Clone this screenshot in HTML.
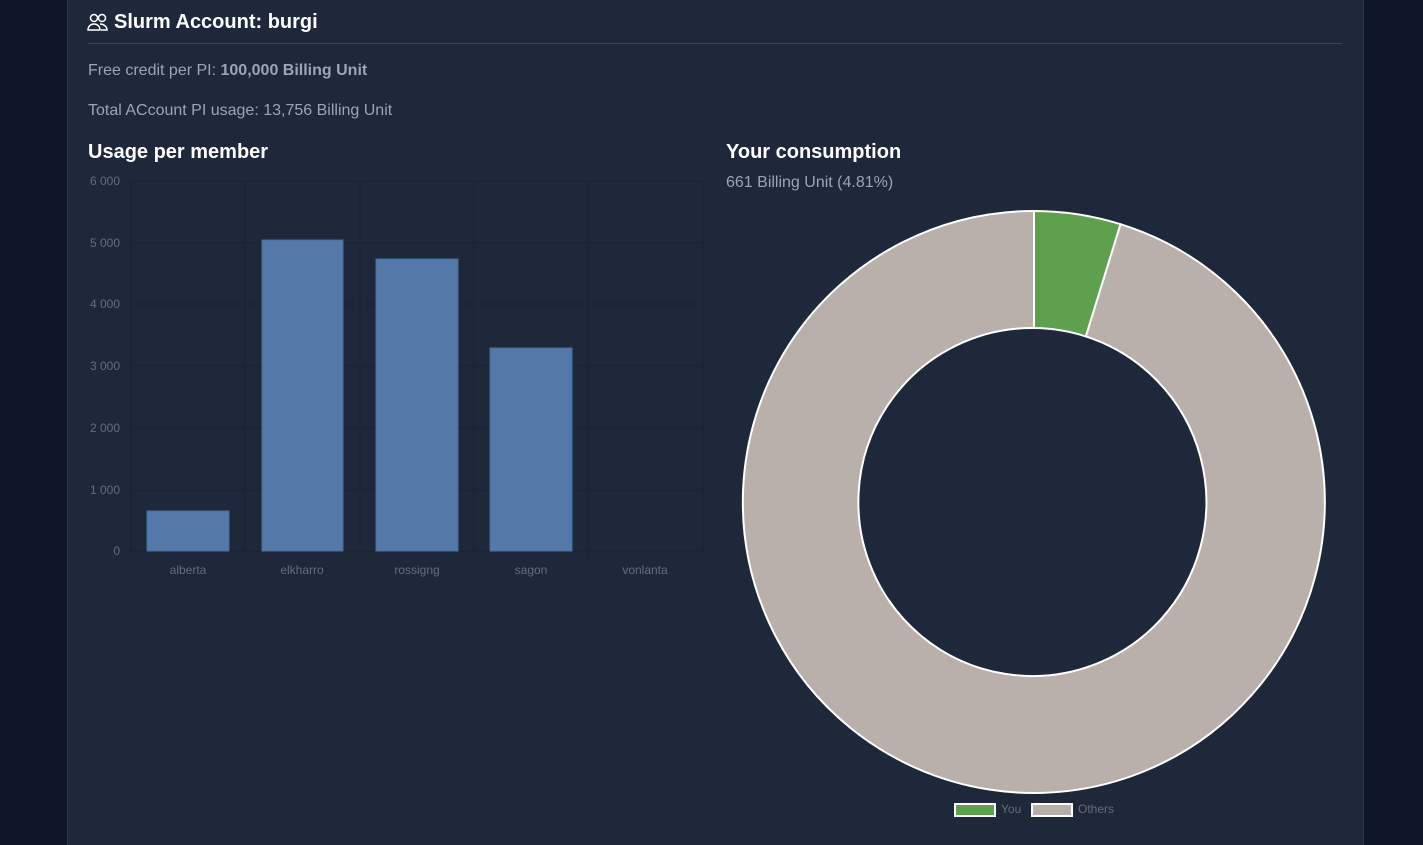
<!DOCTYPE html>
<html><head><style>
body{margin:0;width:1423px;height:845px;background:#0f1629;font-family:"Liberation Sans",sans-serif;overflow:hidden;position:relative}
.card{position:absolute;left:67px;top:0;width:1295px;height:845px;background:#1f273a;border-left:1px solid #2c3548;border-right:1px solid #2c3548}
.t{position:absolute;white-space:nowrap}
</style></head><body>
<div class="card"></div>
<svg class="t" style="left:87px;top:13px" width="22" height="18" viewBox="0 0 22 18" fill="none" stroke="#fff" stroke-width="1.5"><circle cx="7" cy="5" r="3.5"/><circle cx="15" cy="5" r="3.5"/><path d="M1 17c0-4 3-6 6-6s6 2 6 6zM13 11c3 0 7 2 7 6h-6"/></svg>
<div class="t" style="left:114px;top:11px;font-size:20px;font-weight:bold;color:#fff">Slurm Account: burgi</div>
<div class="t" style="left:88px;top:43px;width:1254px;height:1px;background:#3a4356"></div>
<div class="t" style="left:88px;top:62px;font-size:16px;color:#9aa5b6">Free credit per PI: <b>100,000 Billing Unit</b></div>
<div class="t" style="left:88px;top:102px;font-size:16px;color:#9aa5b6">Total ACcount PI usage: 13,756 Billing Unit</div>
<div class="t" style="left:88px;top:141px;font-size:20px;font-weight:bold;color:#fff">Usage per member</div>
<div class="t" style="left:726px;top:141px;font-size:20px;font-weight:bold;color:#fff">Your consumption</div>
<div class="t" style="left:726px;top:174px;font-size:16px;color:#9aa5b6">661 Billing Unit (4.81%)</div>
<svg class="t" style="left:0;top:0" width="1423" height="845">
<g stroke="#1a2233" stroke-width="1">
<line x1="131" y1="181" x2="703" y2="181"/><line x1="131" y1="243" x2="703" y2="243"/><line x1="131" y1="304" x2="703" y2="304"/><line x1="131" y1="366" x2="703" y2="366"/><line x1="131" y1="428" x2="703" y2="428"/><line x1="131" y1="490" x2="703" y2="490"/><line x1="126" y1="551" x2="703" y2="551"/>
<line x1="131" y1="181" x2="131" y2="556"/><line x1="245" y1="181" x2="245" y2="556"/><line x1="360" y1="181" x2="360" y2="556"/><line x1="474" y1="181" x2="474" y2="556"/><line x1="588" y1="181" x2="588" y2="556"/><line x1="703" y1="181" x2="703" y2="556"/>
</g>
<g fill="#5479a8" stroke="#4a6c99">
<rect x="147" y="511" width="82" height="40"/><rect x="262" y="240" width="81" height="311"/><rect x="376" y="259" width="82" height="292"/><rect x="490" y="348" width="82" height="203"/>
</g>
<g font-size="12" fill="#666d78" text-anchor="end">
<text x="120" y="185">6 000</text><text x="120" y="247">5 000</text><text x="120" y="308">4 000</text><text x="120" y="370">3 000</text><text x="120" y="432">2 000</text><text x="120" y="494">1 000</text><text x="120" y="555">0</text>
</g>
<g font-size="12" fill="#666d78" text-anchor="middle">
<text x="188" y="574">alberta</text><text x="302" y="574">elkharro</text><text x="417" y="574">rossigng</text><text x="531" y="574">sagon</text><text x="645" y="574">vonlanta</text>
</g>
<g stroke="#fff" stroke-width="2">
<path d="M1120.5 224.2 A291 291 0 1 1 1034 211 L1034 328 A174 174 0 1 0 1085.8 336.4 Z" fill="#b9b0ab"/>
<path d="M1034 211 A291 291 0 0 1 1120.5 224.2 L1085.8 336.4 A174 174 0 0 0 1034 328 Z" fill="#5fa04e"/>
<rect x="955" y="804" width="40" height="12" fill="#5fa04e"/><rect x="1032" y="804" width="40" height="12" fill="#b9b0ab"/>
</g>
<g font-size="12" fill="#666d78"><text x="1001" y="813">You</text><text x="1078" y="813">Others</text></g>
</svg>
</body></html>
